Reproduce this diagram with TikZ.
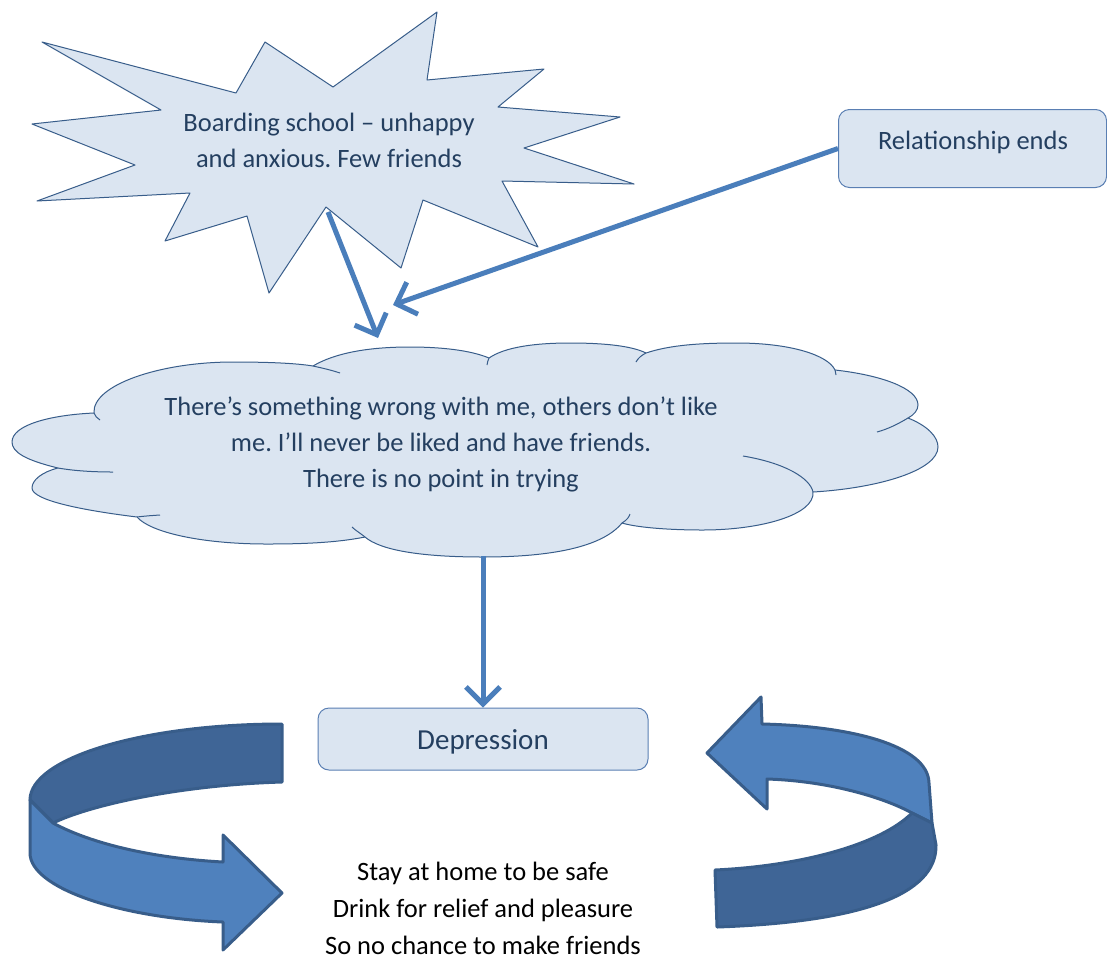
\documentclass[tikz,border=0pt]{standalone}
\usepackage{fontspec}
\setmainfont{Carlito}
\frenchspacing
\usetikzlibrary{arrows.meta}
\definecolor{fillb}{HTML}{DBE5F1}
\definecolor{edgeb}{HTML}{385D8A}
\definecolor{boxedge}{HTML}{5A7FB3}
\definecolor{txtb}{HTML}{243F60}
\definecolor{linkb}{HTML}{4A7EBB}
\definecolor{lightband}{HTML}{4F81BD}
\definecolor{darkband}{HTML}{3F6596}
\definecolor{bandedge}{HTML}{385D8A}
\begin{document}
\begin{tikzpicture}[x=1pt,y=-1pt,
  shapefill/.style={fill=fillb, draw=edgeb, line width=1pt, line join=round},
  cloudline/.style={draw=edgeb, line width=1pt},
  roundbox/.style={fill=fillb, draw=boxedge, line width=1pt, rounded corners=11pt, inner sep=0pt},
  lbl/.style={text=txtb, font=\fontsize{26.5}{36}\selectfont, align=center, inner sep=0pt},
  conn/.style={draw=linkb, line width=5pt, -{Straight Barb[length=17pt,width=34pt]}},
  band/.style={draw=bandedge, line width=3pt, line join=round}]
\fill[white] (0,0) rectangle (1107,959);
\path[use as bounding box] (0,0) rectangle (1107,959);

% starburst
\draw[shapefill] (42,42) -- (236,93) -- (265,42) -- (333,87) -- (437,12) -- (427,80)
  -- (544,69) -- (498,107) -- (620,117) -- (524,148) -- (634,184) -- (502,181)
  -- (538,247) -- (423,200) -- (401,268) -- (326,207) -- (269,293) -- (247,216)
  -- (165,241) -- (190,193) -- (37,201) -- (135,165) -- (32,124) -- (161,110) -- cycle;
\node[lbl] (burst) at (329,140) {Boarding school – unhappy\\and anxious. Few friends};
\coordinate (bs) at (328,212);

% relationship box
\node[roundbox, minimum width=268pt, minimum height=78pt, anchor=north west] (rel) at (838,109) {};
\node[lbl] (relt) at (973,142) {Relationship ends};

% cloud
\draw[shapefill] (94,413)
 .. controls (92,385) and (160,362) .. (233,362)
 .. controls (265,362) and (295,363) .. (313,366)
 .. controls (340,350) and (380,347) .. (410,347)
 .. controls (440,347) and (470,350) .. (489,358)
 .. controls (505,347) and (535,343) .. (570,343)
 .. controls (605,343) and (632,346) .. (646,353)
 .. controls (670,345) and (700,343) .. (737,343)
 .. controls (790,343) and (828,355) .. (835,370)
 .. controls (880,375) and (918,388) .. (918,405)
 .. controls (918,410) and (914,415) .. (908,418)
 .. controls (928,426) and (938,437) .. (938,447)
 .. controls (938,470) and (880,488) .. (813,492)
 .. controls (815,515) and (760,530) .. (703,530)
 .. controls (665,530) and (635,527) .. (622,523)
 .. controls (600,550) and (540,557) .. (483,557)
 .. controls (420,557) and (380,550) .. (365,537)
 .. controls (335,543) and (300,544) .. (267,544)
 .. controls (200,544) and (150,532) .. (137,517)
 .. controls (80,510) and (32,500) .. (32,488)
 .. controls (32,480) and (42,472) .. (58,468)
 .. controls (25,460) and (12,452) .. (12,442)
 .. controls (12,425) and (50,415) .. (94,413) -- cycle;
\draw[cloudline] (94,413) .. controls (95,416) and (97,418) .. (100,420);
\draw[cloudline] (313,366) .. controls (322,368) and (331,370) .. (340,373);
\draw[cloudline] (487,365) .. controls (487.5,362) and (488,360) .. (489,358);
\draw[cloudline] (636,362) .. controls (638,358) and (642,355) .. (646,353);
\draw[cloudline] (835,370) .. controls (835.5,372) and (836,373) .. (836,375);
\draw[cloudline] (908,418) .. controls (898,424) and (888,429) .. (877,432);
\draw[cloudline] (743,456) .. controls (785,463) and (810,478) .. (813,492);
\draw[cloudline] (622,523) .. controls (627,520) and (629,517) .. (630,514);
\draw[cloudline] (365,537) .. controls (360,533) and (355,530) .. (352,527);
\draw[cloudline] (137,517) .. controls (145,516) and (152,515.5) .. (160,515);
\draw[cloudline] (58,468) .. controls (75,471) and (95,472) .. (113,472);
\node[lbl] (belief) at (441,444) {There’s something wrong with me, others don’t like\\me. I’ll never be liked and have friends.\\There is no point in trying};
\coordinate (cb) at (483,556);

% depression box
\node[roundbox, minimum width=330pt, minimum height=62pt] (dep) at (483,739) {};
\node[lbl, font=\fontsize{29}{32}\selectfont] (dept) at (483,742) {Depression};

% connectors
\coordinate (a1) at (378,338);
\coordinate (a2) at (393,305);
\draw[conn] (bs) -- (a1);
\draw[conn] (rel.west) -- (a2);
\draw[conn] (cb) -- (dep.north);

% left curved arrow
\draw[band, fill=darkband] (282,724) -- (282,782) .. controls (180,785) and (90,805) .. (53,823)
  -- (30,800) .. controls (30,758) and (143,724) .. (282,724) -- cycle;
\draw[band, fill=lightband] (30,800) -- (30,853) .. controls (30,888) and (120,918) .. (223,922)
  -- (223,950) -- (282,893) -- (223,835) -- (223,862) .. controls (150,858) and (90,843) .. (53,823) -- cycle;

% right curved arrow
\draw[band, fill=lightband] (762,724) .. controls (850,726) and (928,745) .. (929,783)
  -- (932,823) -- (912,813) .. controls (885,798) and (830,781) .. (767,779)
  -- (767,809) -- (707,753) -- (761,697) -- cycle;
\draw[band, fill=darkband] (912,813) -- (932,823) -- (936,845) .. controls (937,895) and (860,922) .. (717,927)
  -- (715,870) .. controls (800,866) and (880,845) .. (912,813) -- cycle;

% cycle text
\node[lbl, text=black, font=\fontsize{26.5}{37}\selectfont] (cyc) at (483,908) {Stay at home to be safe\\Drink for relief and pleasure\\So no chance to make friends};
\end{tikzpicture}
\end{document}
